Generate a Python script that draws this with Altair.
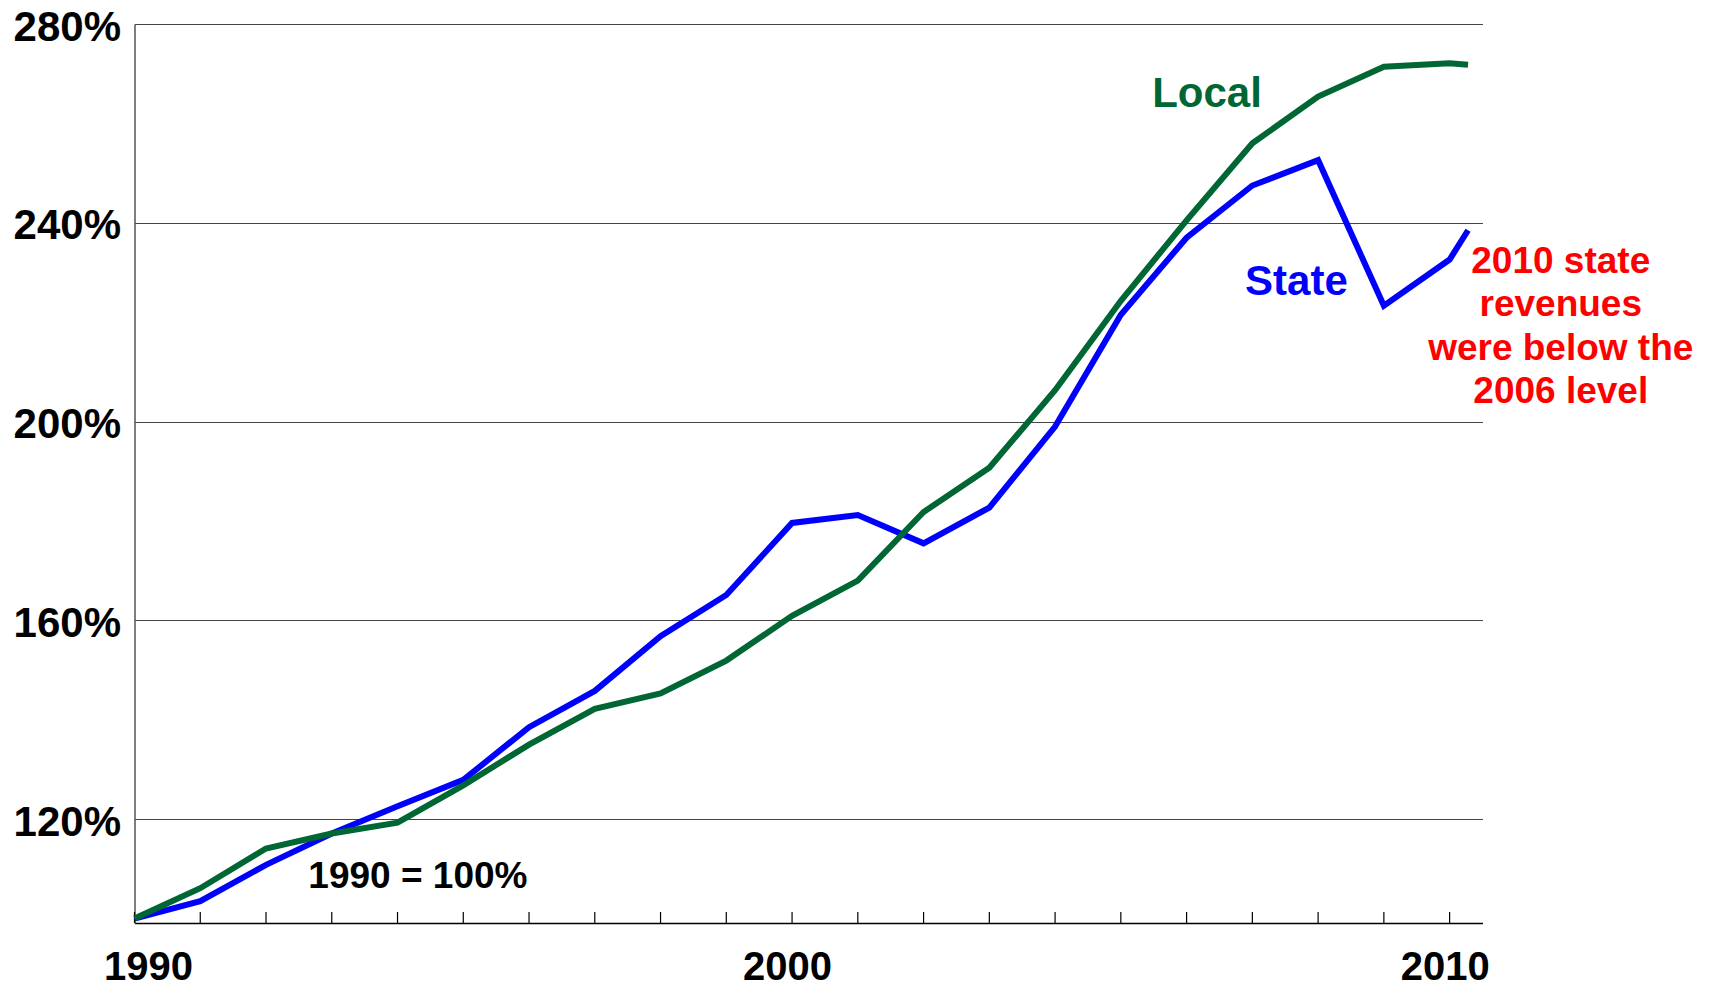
import altair as alt
import pandas as pd

FONT = "Liberation Sans"

years = [1990, 1991, 1992, 1993, 1994, 1995, 1996, 1997, 1998, 1999, 2000,
         2001, 2002, 2003, 2004, 2005, 2006, 2007, 2008, 2009, 2010, 2010.28]
state = [100.0, 103.5, 110.8, 117.1, 122.6, 127.9, 138.5, 145.8, 156.8, 165.1, 179.6,
         181.2, 175.5, 182.7, 199.0, 221.5, 237.0, 247.5, 252.6, 223.3, 232.6, 238.5]
local = [100.0, 106.1, 114.1, 117.1, 119.3, 126.8, 135.0, 142.2, 145.3, 151.9, 160.9,
         168.0, 181.8, 190.7, 206.3, 224.3, 240.5, 256.0, 265.4, 271.4, 272.1, 271.8]
tick_years = list(range(1990, 2011))
y_ticks = [120, 160, 200, 240, 280]
x_labels = [1990, 2000, 2010]

df = pd.DataFrame({
    "year": years * 2,
    "value": state + local,
    "series": ["State"] * len(years) + ["Local"] * len(years),
})
ticks_df = pd.DataFrame({"year": tick_years})

W, H = 1348, 899

xscale = alt.Scale(domain=[1990, 2010.5], nice=False, zero=False)
yscale = alt.Scale(domain=[99.1, 280], nice=False, zero=False)

x_enc = alt.X("year:Q", scale=xscale, title=None,
              axis=alt.Axis(values=x_labels, format="d", ticks=False, grid=False,
                            labelFontSize=40, labelFont=FONT, labelFontWeight="bold",
                            labelColor="black", labelPadding=24, labelFlush=True,
                            labelFlushOffset=26, labelOffset=-5,
                            domainColor="black", domainWidth=1.5))
y_enc = alt.Y("value:Q", scale=yscale, title=None,
              axis=alt.Axis(values=y_ticks, labelExpr="datum.value + '%'", ticks=False,
                            grid=True, gridColor="#444444", gridWidth=1,
                            domainColor="#555555", domainWidth=1.5,
                            labelFontSize=42, labelFont=FONT, labelFontWeight="bold",
                            labelColor="black", labelPadding=14, labelOffset=3))

state_line = alt.Chart(df).transform_filter("datum.series == 'State'").mark_line(
    color="#0000FF", strokeWidth=6).encode(x=x_enc, y=y_enc)
local_line = alt.Chart(df).transform_filter("datum.series == 'Local'").mark_line(
    color="#006633", strokeWidth=6).encode(x="year:Q", y="value:Q")

tick_marks = alt.Chart(ticks_df).mark_rule(color="black", strokeWidth=1.2).encode(
    x="year:Q", y=alt.value(H), y2=alt.value(H - 11))

def label(txt, xv, yv, color, size, **kw):
    return alt.Chart().mark_text(text=txt, color=color, font=FONT, fontWeight="bold",
                                 fontSize=size, align="center", baseline="alphabetic",
                                 **kw).encode(x=alt.datum(xv), y=alt.datum(yv))

t_local = label("Local", 2006.31, 263.35, "#006633", 42)
t_state = label("State", 2007.67, 225.4, "#0000FF", 42)
t_base = label("1990 = 100%", 1994.31, 106.2, "black", 37)
t_note = label(["2010 state", "revenues", "were below the", "2006 level"],
               2011.69, 229.9, "#FF0000", 37, lineHeight=43.5)

chart = alt.layer(tick_marks, state_line, local_line, t_local, t_state, t_base, t_note).properties(
    width=W, height=H,
    autosize=alt.AutoSizeParams(type="none"),
    padding={"left": 134.5, "top": 24, "right": 1714 - 134.5 - W, "bottom": 987 - 24 - H},
    background="white",
).configure_view(stroke=None)

chart.save("out.html", embed_options={"renderer": "svg", "actions": False})
